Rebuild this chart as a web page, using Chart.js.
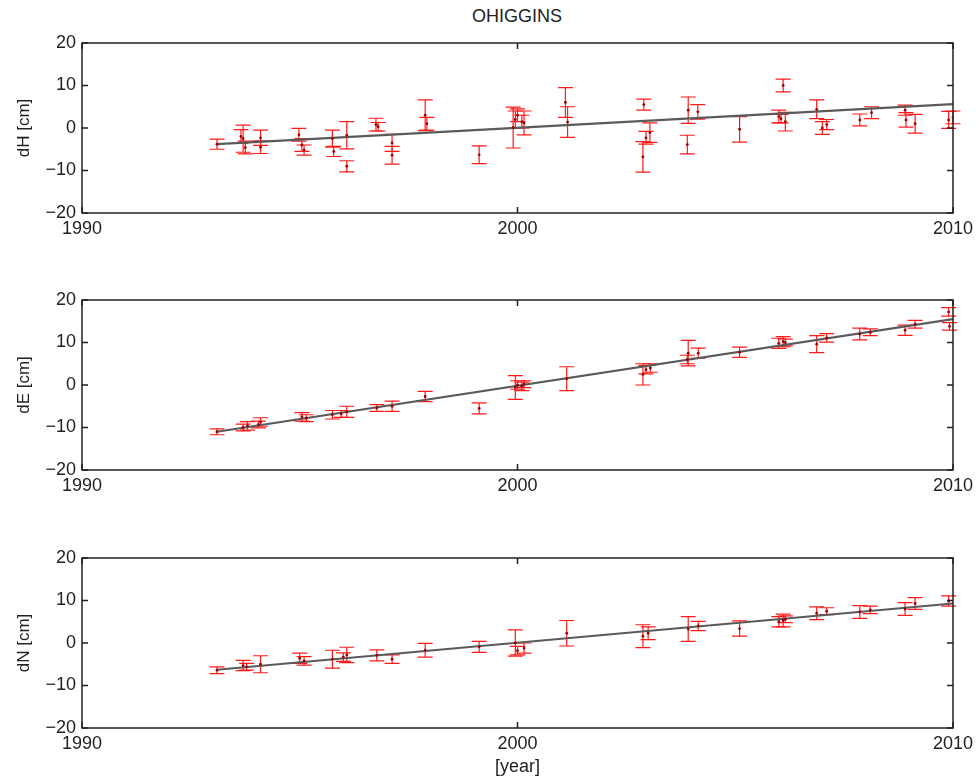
<!DOCTYPE html>
<html>
<head>
<meta charset="utf-8">
<script src="https://cdn.jsdelivr.net/npm/chart.js@4/dist/chart.umd.min.js"></script>
<style>
  html, body { margin: 0; padding: 0; background: #fff; }
  body { width: 979px; height: 778px; position: relative; overflow: hidden; font-family: "Liberation Sans", Arial, sans-serif; }
  canvas { position: absolute; left: 0; }
  #title { position: absolute; left: 0; width: 1034px; top: 6px; text-align: center; font-size: 18px; color: #222; }
</style>
</head>
<body>
<div id="title">OHIGGINS</div>
<canvas id="chartH" width="979" height="258" style="top:0px"></canvas>
<canvas id="chartE" width="979" height="258" style="top:258px"></canvas>
<canvas id="chartN" width="979" height="262" style="top:516px"></canvas>
<script>
const xTicks = [1990, 2000, 2010];
const yTicks = [-20, -10, 0, 10, 20];

const hYears = [1993.1, 1993.65, 1993.75, 1993.7, 1994.1, 1994.1, 1994.98, 1995.05, 1995.1, 1995.75,
  1995.78, 1996.08, 1996.08, 1996.75, 1996.8, 1997.12, 1997.12, 1997.88, 1997.92, 1999.12,
  1999.9, 1999.95, 2000.1, 2000.0, 2000.15, 2001.1, 2001.15, 2002.9, 2002.88, 2002.95,
  2003.04, 2003.92, 2004.14, 2003.9, 2005.1, 2006.1, 2006.0, 2006.15, 2006.05, 2006.87,
  2007.1, 2007.0, 2007.86, 2008.13, 2008.9, 2008.92, 2009.13, 2009.9, 2010.0];
const hValues = [-3.8, -2.0, -4.6, -2.5, -2.3, -4.5, -1.6, -4.0, -5.2, -2.5,
  -5.5, -1.7, -9.0, 0.8, 0.3, -3.5, -6.4, 3.0, 1.0, -6.3,
  0.1, 2.0, 1.5, 3.0, 1.2, 6.0, 1.4, 5.5, -6.8, -2.3,
  -1.1, 4.2, 3.8, -3.9, -0.3, 10.0, 2.7, 1.5, 2.2, 4.4,
  0.8, 0.0, 1.9, 3.6, 4.2, 1.9, 1.0, 1.9, 2.5];
const hErrors = [1.2, 1.6, 1.5, 3.2, 1.8, 1.5, 1.5, 1.5, 1.2, 2.0,
  1.2, 3.2, 1.3, 1.5, 1.0, 2.0, 2.1, 3.6, 1.5, 2.1,
  4.8, 2.0, 1.5, 1.5, 2.8, 3.5, 3.6, 1.3, 3.6, 1.5,
  2.3, 3.1, 1.7, 2.2, 3.0, 1.5, 1.5, 2.2, 1.0, 2.2,
  1.2, 1.5, 1.4, 1.4, 1.2, 1.7, 2.2, 2.0, 1.5];

const eYears = [1993.1, 1993.7, 1993.8, 1994.1, 1994.05, 1995.05, 1995.15, 1995.75, 1995.95, 1996.08,
  1996.77, 1997.12, 1997.88, 1999.12, 1999.95, 2000.0, 2000.1, 2000.15, 2001.13, 2002.88,
  2002.95, 2003.05, 2003.92, 2004.15, 2003.9, 2005.1, 2006.0, 2006.1, 2006.15, 2006.87,
  2007.1, 2007.86, 2008.1, 2008.9, 2009.13, 2009.9, 2009.92];
const eValues = [-11.0, -10.0, -9.6, -8.7, -9.3, -7.5, -7.8, -7.0, -6.8, -6.3,
  -5.4, -5.0, -2.7, -5.5, -0.6, 0.0, -0.3, 0.2, 1.5, 2.5,
  3.6, 4.0, 7.5, 7.5, 6.0, 7.7, 9.8, 10.2, 10.0, 9.6,
  11.1, 12.0, 12.4, 12.9, 14.3, 17.2, 13.8];
const eErrors = [0.7, 0.8, 1.0, 1.0, 0.8, 1.0, 0.8, 1.0, 0.8, 1.3,
  0.8, 1.2, 1.2, 1.3, 2.8, 1.0, 1.0, 0.8, 2.8, 2.5,
  1.0, 1.0, 3.0, 1.2, 1.0, 1.2, 1.2, 1.2, 0.8, 2.0,
  1.0, 1.4, 0.8, 1.2, 0.9, 1.0, 0.9];

const nYears = [1993.1, 1993.7, 1993.78, 1994.1, 1995.0, 1995.1, 1995.75, 1996.08, 1996.0, 1996.77,
  1997.12, 1997.88, 1999.12, 1999.95, 2000.0, 2000.15, 2001.13, 2002.88, 2003.0, 2003.92,
  2004.15, 2005.1, 2006.0, 2006.1, 2006.15, 2006.87, 2007.1, 2007.86, 2008.1, 2008.9,
  2009.13, 2009.9];
const nValues = [-6.4, -5.3, -5.6, -5.0, -3.6, -4.2, -3.8, -2.8, -3.3, -2.9,
  -3.8, -1.7, -0.9, 0.0, -1.8, -1.2, 2.3, 1.6, 2.3, 3.3,
  4.0, 3.4, 5.0, 5.3, 5.6, 7.0, 7.5, 7.3, 7.8, 8.0,
  9.3, 9.9];
const nErrors = [0.8, 1.2, 0.8, 2.0, 1.2, 1.0, 2.1, 1.8, 1.0, 1.3,
  1.0, 1.6, 1.3, 3.1, 1.0, 1.2, 3.0, 2.7, 1.5, 2.9,
  1.1, 1.8, 1.2, 1.5, 0.8, 1.5, 0.8, 1.5, 0.9, 1.5,
  1.4, 1.2];

const trendYears = [1993.1, 2010];
const hTrend = [-3.8, 5.6];
const eTrend = [-11.0, 15.5];
const nTrend = [-6.3, 9.3];

const FONT = "'Liberation Sans', Arial, sans-serif";
const INK = "#222";

// draws the red error bars under everything else
const errorBarPlugin = {
  id: "errorBars",
  beforeDatasetsDraw(chart) {
    const ctx = chart.ctx;
    const xs = chart.scales.x;
    const ys = chart.scales.y;
    ctx.save();
    ctx.strokeStyle = "#ff1a1a";
    ctx.lineWidth = 1.2;
    chart.data.datasets.forEach((ds) => {
      if (!ds.errors) return;
      ds.data.forEach((pt, i) => {
        const px = xs.getPixelForValue(pt.x);
        const top = ys.getPixelForValue(pt.y + ds.errors[i]);
        const bot = ys.getPixelForValue(pt.y - ds.errors[i]);
        ctx.beginPath();
        ctx.moveTo(px, top);
        ctx.lineTo(px, bot);
        ctx.moveTo(px - 7.5, top);
        ctx.lineTo(px + 7.5, top);
        ctx.moveTo(px - 7.5, bot);
        ctx.lineTo(px + 7.5, bot);
        ctx.stroke();
      });
    });
    ctx.restore();
  }
};

// box round the plot with inward ticks on all four sides
const framePlugin = {
  id: "frame",
  afterDraw(chart) {
    const ctx = chart.ctx;
    const a = chart.chartArea;
    const xs = chart.scales.x;
    const ys = chart.scales.y;
    ctx.save();
    ctx.strokeStyle = INK;
    ctx.lineWidth = 1.5;
    ctx.strokeRect(a.left, a.top, a.right - a.left, a.bottom - a.top);
    ctx.beginPath();
    xTicks.forEach((v) => {
      const px = xs.getPixelForValue(v);
      ctx.moveTo(px, a.bottom);
      ctx.lineTo(px, a.bottom - 6);
      ctx.moveTo(px, a.top);
      ctx.lineTo(px, a.top + 6);
    });
    yTicks.forEach((v) => {
      const py = ys.getPixelForValue(v);
      ctx.moveTo(a.left, py);
      ctx.lineTo(a.left + 6, py);
      ctx.moveTo(a.right, py);
      ctx.lineTo(a.right - 6, py);
    });
    ctx.stroke();
    ctx.restore();
  }
};

function toPoints(xsArr, ysArr) {
  return xsArr.map((x, i) => ({ x, y: ysArr[i] }));
}

function makePanel(canvasId, yLabel, years, values, errors, trend, opts) {
  return new Chart(document.getElementById(canvasId), {
    type: "scatter",
    data: {
      datasets: [
        {
          type: "line",
          data: toPoints(trendYears, trend),
          borderColor: "#5a5a5a",
          borderWidth: 2.2,
          pointRadius: 0,
          fill: false,
          order: 2
        },
        {
          data: toPoints(years, values),
          errors: errors,
          pointRadius: 1.4,
          pointBackgroundColor: "#9a0000",
          pointBorderWidth: 0,
          order: 1
        }
      ]
    },
    options: {
      responsive: false,
      animation: false,
      devicePixelRatio: 1,
      layout: { padding: { top: opts.top, right: 26, left: 0, bottom: 0 } },
      plugins: { legend: { display: false }, tooltip: { enabled: false } },
      scales: {
        x: {
          type: "linear",
          min: 1990,
          max: 2010,
          afterBuildTicks: (s) => { s.ticks = xTicks.map((v) => ({ value: v })); },
          afterFit: (s) => { s.height = opts.xHeight; },
          grid: { display: false, drawTicks: false },
          border: { display: false },
          ticks: {
            padding: 5,
            color: INK,
            maxRotation: 0,
            font: { family: FONT, size: 18 },
            callback: (v) => String(v)
          },
          title: {
            display: !!opts.xTitle,
            text: opts.xTitle || "",
            color: INK,
            padding: { top: 0, bottom: 0 },
            font: { family: FONT, size: 18 }
          }
        },
        y: {
          min: -20,
          max: 20,
          afterBuildTicks: (s) => { s.ticks = yTicks.map((v) => ({ value: v })); },
          afterFit: (s) => { s.width = 82; },
          grid: { display: false, drawTicks: false },
          border: { display: false },
          ticks: {
            padding: 6,
            color: INK,
            font: { family: FONT, size: 18 },
            callback: (v) => (v < 0 ? "\u2212" + Math.abs(v) : String(v))
          },
          title: {
            display: true,
            text: yLabel,
            color: INK,
            padding: { top: 14, bottom: 0 },
            font: { family: FONT, size: 17 }
          }
        }
      }
    },
    plugins: [errorBarPlugin, framePlugin]
  });
}

makePanel("chartH", "dH [cm]", hYears, hValues, hErrors, hTrend, { top: 43, xHeight: 45 });
makePanel("chartE", "dE [cm]", eYears, eValues, eErrors, eTrend, { top: 42, xHeight: 46 });
makePanel("chartN", "dN [cm]", nYears, nValues, nErrors, nTrend, { top: 42, xHeight: 50, xTitle: "[year]" });
</script>
</body>
</html>
